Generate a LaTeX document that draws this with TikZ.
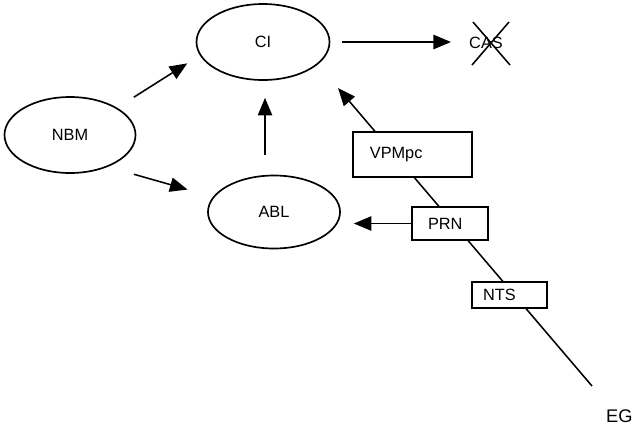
\documentclass[tikz,border=0pt]{standalone}
\usepackage{fontspec}
\setmainfont{Liberation Sans}
\usepackage{tikz}
\usetikzlibrary{shapes.geometric, arrows.meta, positioning, calc}
\tikzset{
    oval/.style={ellipse, draw, line width=1.2pt, minimum width=3.3cm, minimum height=1.9cm, inner sep=0pt, font=\fontsize{11.6}{13}\selectfont},
    tagbox/.style={rectangle, draw, line width=1.2pt, fill=white, inner sep=0pt, align=left, font=\fontsize{11.6}{13}\selectfont},
    plain/.style={inner sep=0pt, font=\fontsize{11.6}{13}\selectfont},
    flow/.style={-{Triangle[length=4.4mm, width=3.6mm]}, line width=1.1pt},
}

\begin{document}
\begin{tikzpicture}
\useasboundingbox (0,0) rectangle (15.825,-10.7);

% Ovals
\node[oval, minimum width=3.325cm] (ci) at (6.575,-1.05) {CI};
\node[oval, minimum width=3.275cm] (nbm) at (1.75,-3.375) {NBM};
\node[oval, minimum height=1.825cm] (abl) at (6.85,-5.3) {ABL};

% Free labels
\node[plain] (cas) at (12.15,-1.075) {CAS};
\node[plain, anchor=east, font=\fontsize{13}{15}\selectfont] (eg) at (15.82,-10.4) {EG};

% Long diagonal line
\coordinate (egtail) at (14.8,-9.65);
\coordinate (vpmhead) at (8.45,-2.2);
\draw[flow] (egtail) -- (vpmhead);

% Boxes sitting on the line
\node[tagbox, minimum width=2.975cm, minimum height=1.125cm, text width=2.125cm] (vpm) at (10.31,-3.86) {VPMpc};
\node[tagbox, minimum width=1.9cm, minimum height=0.825cm, text width=1.1cm] (prn) at (11.25,-5.5875) {PRN};
\node[tagbox, minimum width=1.875cm, minimum height=0.65cm, text width=1.325cm] (nts) at (12.74,-7.375) {NTS};

% Arrows between ovals
\draw[flow, shorten <=0.49cm, shorten >=0.37cm] (nbm.30) -- (ci.192);
\draw[flow, shorten <=0.675cm, shorten >=0.66cm] (nbm.-40) -- (abl.166);
\draw[flow, shorten <=0.5cm, shorten >=0.425cm] ([xshift=-0.225cm]abl.north) -- ([xshift=-0.225cm]abl.north |- ci.south);
\draw[flow, shorten <=0.3cm, shorten >=0.45cm] (ci.east) -- (ci.east -| cas.west);
\draw[flow, shorten >=0.325cm] (prn.west) -- (prn.west -| abl.east);

% Cross over CAS
\draw[line width=1.1pt] ([shift={(-0.35,-0.55)}]cas.center) -- ([shift={(0.575,0.525)}]cas.center);
\draw[line width=1.1pt] ([shift={(-0.325,0.525)}]cas.center) -- ([shift={(0.6,-0.55)}]cas.center);

\end{tikzpicture}
\end{document}
